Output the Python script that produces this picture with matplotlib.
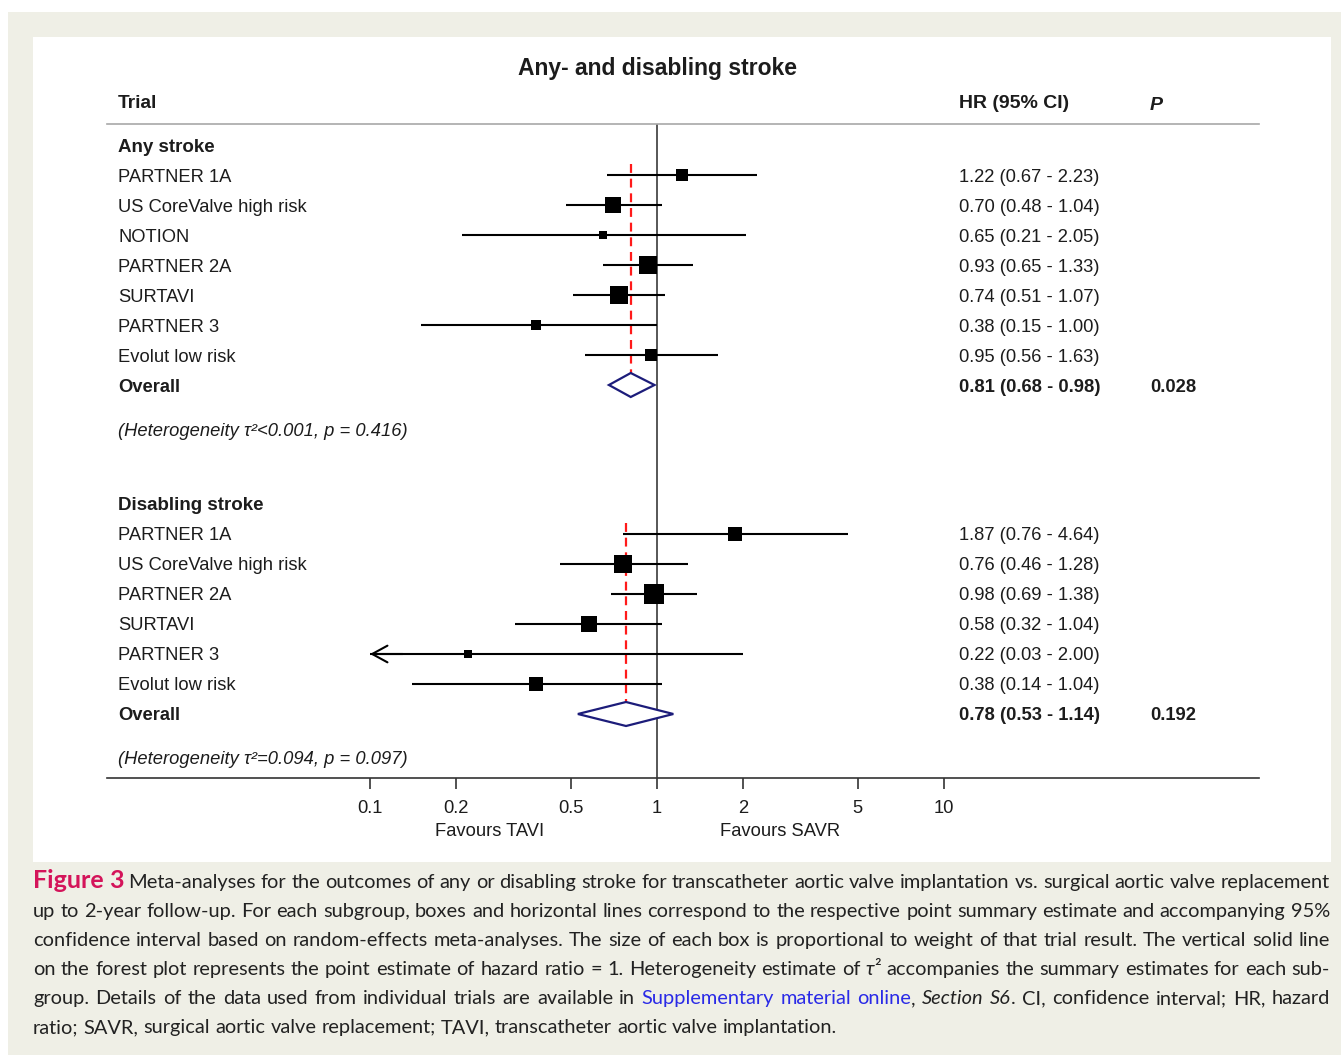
import matplotlib
matplotlib.use('Agg')
import matplotlib.pyplot as plt
from matplotlib.patches import Rectangle, Polygon

W, H = 1341, 1059

# ---- data ----
any_trials = ['PARTNER 1A', 'US CoreValve high risk', 'NOTION', 'PARTNER 2A',
              'SURTAVI', 'PARTNER 3', 'Evolut low risk']
any_hr = [1.22, 0.70, 0.65, 0.93, 0.74, 0.38, 0.95]
any_lo = [0.67, 0.48, 0.21, 0.65, 0.51, 0.15, 0.56]
any_hi = [2.23, 1.04, 2.05, 1.33, 1.07, 1.00, 1.63]
any_wt = [11.5, 19.6, 4.3, 24.5, 22.0, 6.8, 11.5]
any_overall = [0.81, 0.68, 0.98]
any_p = '0.028'
any_het = '(Heterogeneity τ²<0.001, p = 0.416)'

dis_trials = ['PARTNER 1A', 'US CoreValve high risk', 'PARTNER 2A',
              'SURTAVI', 'PARTNER 3', 'Evolut low risk']
dis_hr = [1.87, 0.76, 0.98, 0.58, 0.22, 0.38]
dis_lo = [0.76, 0.46, 0.69, 0.32, 0.03, 0.14]
dis_hi = [4.64, 1.28, 1.38, 1.04, 2.00, 1.04]
dis_wt = [13.9, 23.0, 28.4, 18.2, 4.5, 12.0]
dis_overall = [0.78, 0.53, 1.14]
dis_p = '0.192'
dis_het = '(Heterogeneity τ²=0.094, p = 0.097)'

ticks = [0.1, 0.2, 0.5, 1, 2, 5, 10]
tick_labels = ['0.1', '0.2', '0.5', '1', '2', '5', '10']

# ---- figure ----
plt.rcParams['font.family'] = ['Liberation Sans', 'DejaVu Sans']
fig = plt.figure(figsize=(W / 100, H / 100), dpi=100, facecolor='white')

def fx(px):
    return px / W

def fy(py):
    return 1 - py / H

def box(x0, y0, x1, y1, color, z):
    fig.add_artist(Rectangle((fx(x0), fy(y1)), fx(x1) - fx(x0), fy(y0) - fy(y1),
                             transform=fig.transFigure, facecolor=color,
                             edgecolor='none', zorder=z))

box(8, 12, 1341, 1055, '#efefe6', -20)
box(33, 37, 1331, 862, 'white', -19)

txtc = '#1c1c1c'
fs = 13.2

def label(px, py, s, **kw):
    kw.setdefault('size', fs)
    kw.setdefault('color', txtc)
    fig.text(fx(px), fy(py + 2), s, va='center', **kw)

# forest axes: x in HR (log), y in pixel rows
dec = 287.0  # px per decade
ax = fig.add_axes([fx(107), fy(778), fx(1259) - fx(107), fy(124) - fy(778)])
ax.patch.set_alpha(0)
ax.set_xscale('log')
ax.set_xlim(10 ** (-1 - (370 - 107) / dec), 10 ** (-1 + (1259 - 370) / dec))
ax.set_ylim(778, 124)
for s in ['left', 'right']:
    ax.spines[s].set_visible(False)
ax.spines['top'].set_color('#a8a8a8')
ax.spines['top'].set_linewidth(1.2)
ax.spines['bottom'].set_color('#333333')
ax.spines['bottom'].set_linewidth(1.2)
ax.set_yticks([])
ax.set_xticks(ticks)
ax.set_xticklabels(tick_labels)
ax.xaxis.set_minor_locator(matplotlib.ticker.NullLocator())
ax.tick_params(axis='x', direction='out', length=8, width=1.2, pad=8,
               labelsize=fs, colors='#333333', labelcolor=txtc)
ax.axvline(1, color='#3a3a3a', lw=1.2, zorder=1)

xmin_show = 0.1

def draw_group(y0, trials, hr, lo, hi, wt, overall, p, het, header):
    label(118, y0, header, weight='bold', size=13.5)
    rows = [y0 + 30 * (i + 1) for i in range(len(trials))]
    y_ov = y0 + 30 * (len(trials) + 1)
    for y, name, h, l, u, w in zip(rows, trials, hr, lo, hi, wt):
        l_draw = max(l, xmin_show)
        ax.plot([l_draw, u], [y, y], color='black', lw=1.5, solid_capstyle='butt', zorder=3)
        if l < xmin_show:
            ax.annotate('', xy=(xmin_show, y), xytext=(xmin_show * 1.3, y),
                        arrowprops=dict(arrowstyle='->,head_length=1.1,head_width=0.6',
                                        color='black', lw=1.5, shrinkA=0, shrinkB=0),
                        zorder=3)
        side = (w * 14.4) ** 0.5
        ax.plot(h, y, marker='s', ms=side * 0.72, color='black', mew=0, zorder=4)
        label(118, y, name)
        label(959, y, f'{h:.2f} ({l:.2f} - {u:.2f})')
    h, l, u = overall
    dh = 12
    ax.add_patch(Polygon([(l, y_ov), (h, y_ov - dh), (u, y_ov), (h, y_ov + dh)],
                         closed=True, facecolor='white', edgecolor='#1c1c7a',
                         lw=1.6, zorder=5))
    ax.plot([h, h], [rows[0] - 11, y_ov - dh], color='#ff1a1a', lw=1.6,
            ls=(0, (4, 2.6)), zorder=2)
    label(118, y_ov, 'Overall', weight='bold')
    label(959, y_ov, f'{h:.2f} ({l:.2f} - {u:.2f})', weight='bold')
    label(1150, y_ov, p, weight='bold')
    label(118, y_ov + 44, het, style='italic')

draw_group(145, any_trials, any_hr, any_lo, any_hi, any_wt, any_overall, any_p, any_het, 'Any stroke')
draw_group(504, dis_trials, dis_hr, dis_lo, dis_hi, dis_wt, dis_overall, dis_p, dis_het, 'Disabling stroke')

label(657, 67, 'Any- and disabling stroke', ha='center', weight='bold', size=16.5)
label(118, 102, 'Trial', weight='bold', size=13.8)
label(959, 102, 'HR (95% CI)', weight='bold', size=14)
label(1150, 104, 'P', weight='bold', style='italic', size=14)
label(490, 830, 'Favours TAVI', ha='center')
label(780, 830, 'Favours SAVR', ha='center')

# ---- caption, justified word by word ----
cap_font = ['Lato', 'DejaVu Sans']
styles = {
    'fig': dict(weight='bold', color='#d4145a'),
    'n': dict(color='#222222'),
    'i': dict(color='#222222', style='italic'),
    'link': dict(color='#2a2ae6'),
}
size_mult = {'fig': 1.25}
cap_lines = [
    [('Figure 3', 'fig'), (' Meta-analyses for the outcomes of any or disabling stroke for transcatheter aortic valve implantation vs. surgical aortic valve replacement', 'n')],
    [('up to 2-year follow-up. For each subgroup, boxes and horizontal lines correspond to the respective point summary estimate and accompanying 95%', 'n')],
    [('confidence interval based on random-effects meta-analyses. The size of each box is proportional to weight of that trial result. The vertical solid line', 'n')],
    [('on the forest plot represents the point estimate of hazard ratio = 1. Heterogeneity estimate of ', 'n'), ('τ', 'i'), ('²', 'n'), (' accompanies the summary estimates for each sub-', 'n')],
    [('group. Details of the data used from individual trials are available in ', 'n'), ('Supplementary material online', 'link'), (', ', 'n'), ('Section S6', 'i'), ('. CI, confidence interval; HR, hazard', 'n')],
    [('ratio; SAVR, surgical aortic valve replacement; TAVI, transcatheter aortic valve implantation.', 'n')],
]
cap_y = [882, 911, 940, 969, 998, 1027]
cap_x0, cap_x1 = 33, 1330

def to_words(segs):
    words = [[]]
    for txt, st in segs:
        parts = txt.split(' ')
        for i, part in enumerate(parts):
            if i > 0:
                words.append([])
            if part:
                words[-1].append((part, st))
    return [w for w in words if w]

r = fig.canvas.get_renderer()

def measure(s, st, size):
    t = fig.text(0, 0, s, size=size * size_mult.get(st, 1), family=cap_font, **styles[st])
    w = t.get_window_extent(renderer=r).width
    t.remove()
    return w

def word_width(word, size):
    return sum(measure(s, st, size) for s, st in word)

base = 16.0
sp = measure('a a', 'n', base) - measure('aa', 'n', base)
scale = 1.0
for segs in cap_lines[:-1]:
    words = to_words(segs)
    natural = sum(word_width(w, base) for w in words) + 0.9 * sp * (len(words) - 1)
    scale = min(scale, (cap_x1 - cap_x0) / natural)
cap_fs = base * scale
sp = measure('a a', 'n', cap_fs) - measure('aa', 'n', cap_fs)

for k, (segs, yc) in enumerate(zip(cap_lines, cap_y)):
    words = to_words(segs)
    widths = [word_width(w, cap_fs) for w in words]
    if k < len(cap_lines) - 1:
        gap = (cap_x1 - cap_x0 - sum(widths)) / (len(words) - 1)
    else:
        gap = sp
    x = cap_x0
    for w, ww in zip(words, widths):
        xp = x
        for s, st in w:
            fig.text(fx(xp), fy(yc + 6), s, size=cap_fs * size_mult.get(st, 1),
                     family=cap_font, va='baseline', **styles[st])
            xp += measure(s, st, cap_fs)
        x += ww + gap

fig.savefig('out.png', dpi=100, facecolor=fig.get_facecolor())
